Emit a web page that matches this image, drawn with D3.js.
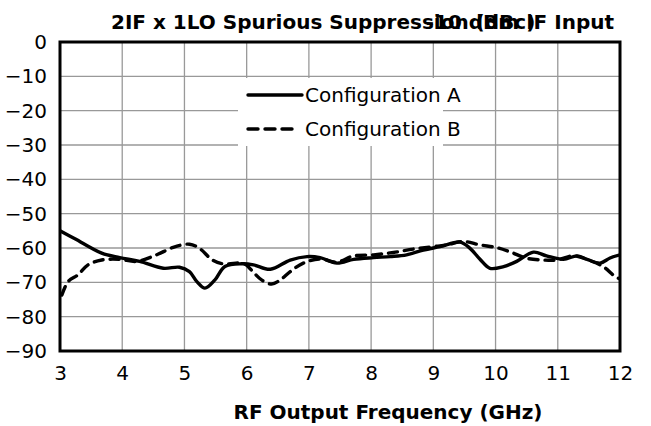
<!DOCTYPE html>
<html>
<head>
<meta charset="utf-8">
<script src="https://cdn.jsdelivr.net/npm/d3@7"></script>
<style>
  html, body { margin: 0; padding: 0; background: #fff; }
  svg { display: block; font-family: "DejaVu Sans", sans-serif; }
</style>
</head>
<body>
<svg id="chart" width="651" height="426"></svg>
<script>
// Spurious suppression (dBc) vs RF output frequency (GHz)
const freqA = [3.00, 3.24, 3.67, 3.96, 4.28, 4.66, 4.92, 5.08, 5.20, 5.33, 5.49, 5.65, 5.92, 6.11, 6.38, 6.70, 6.97, 7.18, 7.45, 7.72, 8.04, 8.31, 8.57, 8.84, 9.11, 9.43, 9.59, 9.75, 9.91, 10.13, 10.34, 10.61, 10.82, 11.09, 11.31, 11.47, 11.68, 11.84, 12.00];
const configA = [-55.0, -57.3, -61.5, -62.8, -63.9, -65.9, -65.6, -66.9, -69.8, -71.7, -69.3, -65.4, -64.6, -64.9, -66.2, -63.5, -62.5, -62.8, -64.4, -63.3, -62.8, -62.5, -62.0, -60.6, -59.6, -58.3, -60.1, -63.3, -65.9, -65.4, -63.9, -61.2, -62.3, -63.3, -62.3, -63.3, -64.4, -62.9, -62.0];

const freqB = [3.03, 3.13, 3.29, 3.45, 3.67, 3.96, 4.23, 4.55, 4.82, 5.08, 5.24, 5.45, 5.62, 5.92, 5.99, 6.12, 6.24, 6.40, 6.54, 6.70, 6.91, 7.18, 7.45, 7.72, 8.04, 8.36, 8.68, 9.00, 9.22, 9.48, 9.75, 10.02, 10.23, 10.50, 10.77, 10.98, 11.25, 11.52, 11.73, 11.92, 12.00];
const configB = [-73.7, -69.8, -67.8, -64.9, -63.5, -63.3, -63.9, -62.0, -59.8, -58.9, -60.1, -63.5, -64.6, -64.4, -64.9, -67.3, -69.3, -70.5, -69.3, -66.9, -64.4, -63.2, -64.1, -62.3, -62.0, -61.3, -60.3, -59.6, -59.1, -58.1, -59.1, -59.9, -61.1, -63.0, -63.5, -63.5, -62.3, -63.7, -65.4, -68.3, -69.0];

const xTicks = [3, 4, 5, 6, 7, 8, 9, 10, 11, 12];
const yTicks = [0, -10, -20, -30, -40, -50, -60, -70, -80, -90];
const seriesNames = ["Configuration A", "Configuration B"];

const svg = d3.select("#chart");
const plot = { left: 60, right: 620, top: 42, bottom: 351 };
const fontSize = 20;

const x = d3.scaleLinear().domain([3, 12]).range([plot.left, plot.right]);
const y = d3.scaleLinear().domain([0, -90]).range([plot.top, plot.bottom]);

// grid
const grid = svg.append("g");
grid.selectAll("line.v").data(xTicks.slice(1, -1)).join("line")
  .attr("x1", d => x(d)).attr("x2", d => x(d))
  .attr("y1", plot.top).attr("y2", plot.bottom)
  .attr("stroke", "#999").attr("stroke-width", 1.3);
grid.selectAll("line.h").data(yTicks.slice(1, -1)).join("line")
  .attr("x1", plot.left).attr("x2", plot.right)
  .attr("y1", d => y(d)).attr("y2", d => y(d))
  .attr("stroke", "#999").attr("stroke-width", 1.3);

// axes (labels only; frame drawn separately)
const xAxis = svg.append("g")
  .attr("transform", `translate(0,${plot.bottom})`)
  .call(d3.axisBottom(x).tickValues(xTicks).tickSize(0).tickPadding(15).tickFormat(d3.format("d")));
const yAxis = svg.append("g")
  .attr("transform", `translate(${plot.left},0)`)
  .call(d3.axisLeft(y).tickValues(yTicks).tickSize(0).tickPadding(13).tickFormat(d3.format("d")));
[xAxis, yAxis].forEach(a => {
  a.select(".domain").remove();
  a.selectAll("text").attr("font-size", fontSize).attr("fill", "#000")
    .attr("font-family", "DejaVu Sans, sans-serif");
});

// series
const line = d3.line().curve(d3.curveCatmullRom.alpha(0.5));
const ptsA = freqA.map((f, i) => [x(f), y(configA[i])]);
const ptsB = freqB.map((f, i) => [x(f), y(configB[i])]);

svg.append("defs").append("clipPath").attr("id", "clip")
  .append("rect").attr("x", plot.left).attr("y", plot.top)
  .attr("width", plot.right - plot.left).attr("height", plot.bottom - plot.top);

const g = svg.append("g").attr("clip-path", "url(#clip)");
g.append("path").attr("d", line(ptsB)).attr("fill", "none")
  .attr("stroke", "#000").attr("stroke-width", 3.4)
  .attr("stroke-dasharray", "9,7").attr("stroke-linecap", "round");
g.append("path").attr("d", line(ptsA)).attr("fill", "none")
  .attr("stroke", "#000").attr("stroke-width", 3.4).attr("stroke-linejoin", "round");

// frame
svg.append("rect").attr("x", plot.left).attr("y", plot.top)
  .attr("width", plot.right - plot.left).attr("height", plot.bottom - plot.top)
  .attr("fill", "none").attr("stroke", "#000").attr("stroke-width", 3);

// legend
const lg = svg.append("g");
lg.append("rect").attr("x", 238).attr("y", 78).attr("width", 205).attr("height", 68).attr("fill", "#fff");
const legendRows = lg.selectAll("g.row").data(seriesNames).join("g")
  .attr("transform", (d, i) => `translate(0,${95 + i * 34})`);
legendRows.append("line")
  .attr("x1", 248).attr("x2", (d, i) => i === 0 ? 302 : 296)
  .attr("y1", 0).attr("y2", 0)
  .attr("stroke", "#000").attr("stroke-width", 3.4)
  .attr("stroke-linecap", "round")
  .attr("stroke-dasharray", (d, i) => i === 0 ? null : "10,7");
legendRows.append("text").attr("x", 305).attr("y", 0).attr("dy", "0.35em")
  .attr("font-size", fontSize).text(d => d);

// titles
svg.append("text").attr("x", 111).attr("y", 29)
  .attr("font-size", fontSize).attr("font-weight", "bold").text("2IF x 1LO Spurious Suppression (dBc)");
svg.append("text").attr("x", 614).attr("y", 29).attr("text-anchor", "end")
  .attr("font-size", fontSize).attr("font-weight", "bold").text("-10 dBm IF Input");

svg.append("text").attr("x", 388).attr("y", 419).attr("text-anchor", "middle")
  .attr("font-size", fontSize).attr("font-weight", "bold").text("RF Output Frequency (GHz)");
</script>
</body>
</html>
